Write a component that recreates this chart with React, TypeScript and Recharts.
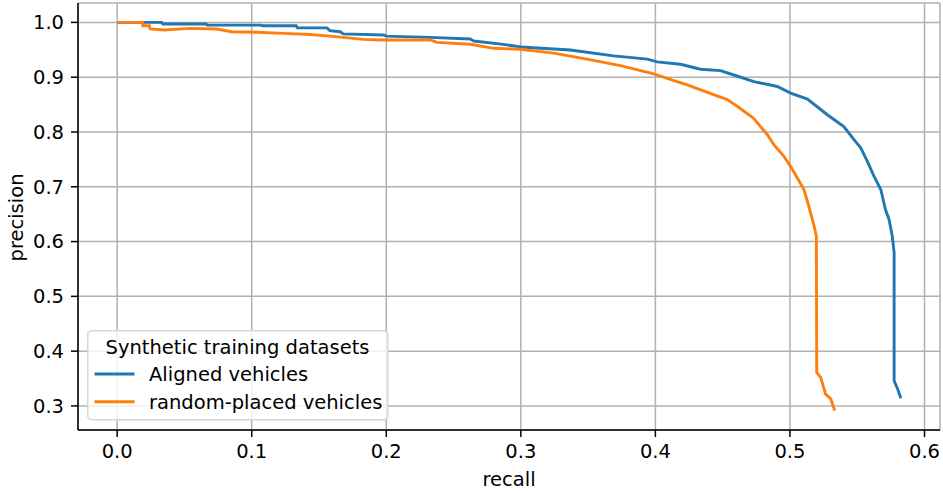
import {
  CartesianGrid,
  Legend,
  Line,
  LineChart,
  XAxis,
  YAxis,
} from "recharts";

// Precision-recall curves
const ALIGNED_RECALL = [
  0.0, 0.033, 0.034, 0.066, 0.067, 0.107, 0.108, 0.133, 0.134, 0.156, 0.158,
  0.1657, 0.168, 0.198, 0.2, 0.2327, 0.2624, 0.265, 0.287, 0.3, 0.3368, 0.369,
  0.394, 0.4013, 0.4187, 0.4336, 0.4484, 0.4583, 0.4732, 0.4906, 0.5005,
  0.513, 0.528, 0.54, 0.5476, 0.5526, 0.5576, 0.5625, 0.5675, 0.571, 0.5737,
  0.576, 0.5774, 0.5774, 0.58, 0.5824,
];
const ALIGNED_PRECISION = [
  1.0, 1.0, 0.997, 0.997, 0.995, 0.995, 0.994, 0.994, 0.99, 0.99, 0.985,
  0.983, 0.979, 0.977, 0.975, 0.9727, 0.9696, 0.966, 0.96, 0.955, 0.9496,
  0.939, 0.933, 0.928, 0.9236, 0.9145, 0.912, 0.904, 0.892, 0.883, 0.871,
  0.86, 0.831, 0.81, 0.786, 0.771, 0.746, 0.719, 0.695, 0.658, 0.64, 0.61,
  0.58, 0.346, 0.331, 0.314,
];

const RANDOM_RECALL = [
  0.0, 0.019, 0.0191, 0.024, 0.0245, 0.035, 0.054, 0.074, 0.085, 0.104,
  0.1235, 0.1434, 0.158, 0.183, 0.1955, 0.2327, 0.2377, 0.2624, 0.28, 0.2996,
  0.3244, 0.349, 0.374, 0.3988, 0.416, 0.4237, 0.4336, 0.4534, 0.461, 0.473,
  0.4832, 0.488, 0.4955, 0.5005, 0.5055, 0.5104, 0.514, 0.518, 0.5196, 0.5199,
  0.5228, 0.5265, 0.5303, 0.5333,
];
const RANDOM_PRECISION = [
  1.0, 1.0, 0.994, 0.994, 0.988, 0.986, 0.989, 0.988, 0.983, 0.982, 0.98,
  0.978, 0.975, 0.969, 0.968, 0.968, 0.9636, 0.96, 0.9527, 0.951, 0.944,
  0.933, 0.921, 0.906, 0.892, 0.886, 0.877, 0.859, 0.8465, 0.825, 0.795,
  0.777, 0.7555, 0.737, 0.716, 0.695, 0.6645, 0.628, 0.61, 0.361, 0.352,
  0.3216, 0.3128, 0.2915,
];

const X_TICKS = [0.0, 0.1, 0.2, 0.3, 0.4, 0.5, 0.6];
const Y_TICKS = [0.3, 0.4, 0.5, 0.6, 0.7, 0.8, 0.9, 1.0];

const LEGEND_TITLE = "Synthetic training datasets";
const SERIES_NAMES = ["Aligned vehicles", "random-placed vehicles"];

const COLORS = {
  blue: "#1f77b4",
  orange: "#ff7f0e",
  grid: "#b0b0b0",
  axis: "#000000",
};

const FONT = "'DejaVu Sans', sans-serif";
const FONT_SIZE = 19.5;

const toPoints = (xs: number[], ys: number[]) =>
  xs.map((x, i) => ({ recall: x, precision: ys[i] }));

const alignedData = toPoints(ALIGNED_RECALL, ALIGNED_PRECISION);
const randomData = toPoints(RANDOM_RECALL, RANDOM_PRECISION);

const fmt = (v: number) => v.toFixed(1);

function LegendBox() {
  const colors = [COLORS.blue, COLORS.orange];
  return (
    <svg width={302} height={91} style={{ display: "block", fontFamily: FONT }}>
      <rect
        x={0.75}
        y={0.75}
        width={300}
        height={89}
        rx={4}
        fill="rgba(255,255,255,0.8)"
        stroke="#d6d6d6"
        strokeWidth={1.5}
      />
      <text x={150.5} y={23.5} textAnchor="middle" fontSize={FONT_SIZE} fill="#000">
        {LEGEND_TITLE}
      </text>
      {SERIES_NAMES.map((name, i) => (
        <g key={name}>
          <line
            x1={7.5}
            x2={47.5}
            y1={44 + i * 27.7}
            y2={44 + i * 27.7}
            stroke={colors[i]}
            strokeWidth={2.9}
          />
          <text x={62} y={51 + i * 28.3} fontSize={FONT_SIZE} fill="#000">
            {name}
          </text>
        </g>
      ))}
    </svg>
  );
}

export default function App() {
  const tickStyle = { fontSize: FONT_SIZE, fill: "#000", fontFamily: FONT };
  return (
    <div style={{ position: "absolute", left: 0, top: 0, fontFamily: FONT }}>
      <LineChart
        width={943}
        height={493}
        margin={{ top: 3, right: 3, left: 0, bottom: 0 }}
      >
        <CartesianGrid stroke={COLORS.grid} strokeWidth={1.5} />
        <XAxis
          dataKey="recall"
          type="number"
          domain={[-0.0291, 0.6115]}
          allowDataOverflow
          ticks={X_TICKS}
          tickFormatter={fmt}
          tick={tickStyle}
          tickSize={7}
          tickMargin={7}
          height={63}
          stroke={COLORS.axis}
          strokeWidth={1.5}
          label={{
            value: "recall",
            position: "insideBottom",
            offset: 7,
            style: { fontSize: FONT_SIZE, fill: "#000", fontFamily: FONT },
          }}
        />
        <XAxis
          xAxisId="top"
          orientation="top"
          type="number"
          domain={[-0.0291, 0.6115]}
          height={0}
          tick={false}
          tickLine={false}
          stroke={COLORS.axis}
          strokeWidth={1.5}
        />
        <YAxis
          type="number"
          domain={[0.2561, 1.0354]}
          allowDataOverflow
          ticks={Y_TICKS}
          tickFormatter={fmt}
          tick={tickStyle}
          tickSize={7}
          tickMargin={7}
          width={78}
          stroke={COLORS.axis}
          strokeWidth={1.5}
          label={{
            content: ({ viewBox }: any) => {
              const cx = (viewBox?.x ?? 0) + 23;
              const cy = (viewBox?.y ?? 0) + (viewBox?.height ?? 0) / 2 + 1;
              return (
                <text
                  x={cx}
                  y={cy}
                  transform={`rotate(-90, ${cx}, ${cy})`}
                  textAnchor="middle"
                  fontSize={FONT_SIZE}
                  fontFamily={FONT}
                  fill="#000"
                >
                  precision
                </text>
              );
            },
          }}
        />
        <YAxis
          yAxisId="right"
          orientation="right"
          type="number"
          domain={[0.2561, 1.0354]}
          width={0}
          tick={false}
          tickLine={false}
          stroke={COLORS.axis}
          strokeWidth={1.5}
        />
        <Legend
          layout="horizontal"
          align="center"
          verticalAlign="middle"
          content={() => <LegendBox />}
          wrapperStyle={{ left: 87, top: 330, width: 302, height: 91 }}
        />
        <Line
          data={alignedData}
          dataKey="precision"
          name={SERIES_NAMES[0]}
          type="linear"
          stroke={COLORS.blue}
          strokeWidth={2.9}
          dot={false}
          isAnimationActive={false}
        />
        <Line
          data={randomData}
          dataKey="precision"
          name={SERIES_NAMES[1]}
          type="linear"
          stroke={COLORS.orange}
          strokeWidth={2.9}
          dot={false}
          isAnimationActive={false}
        />
      </LineChart>
    </div>
  );
}
